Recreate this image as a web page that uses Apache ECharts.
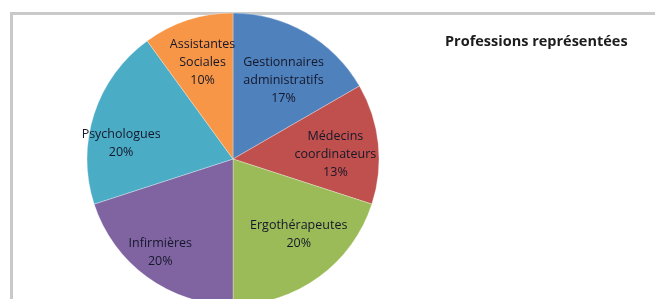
<!DOCTYPE html>
<html>
<head>
<meta charset="utf-8">
<script src="https://cdn.jsdelivr.net/npm/echarts@6/dist/echarts.min.js"></script>
<style>
html,body{margin:0;padding:0;background:#fff;}
#c{width:655px;height:299px;}
</style>
</head>
<body>
<div id="c"></div>
<script>
const categories = ["Gestionnaires\nadministratifs", "Médecins\ncoordinateurs", "Ergothérapeutes", "Infirmières", "Psychologues", "Assistantes\nSociales"];
const counts = [5, 4, 6, 6, 6, 3];
const colors = ["#4F81BD", "#C0504D", "#9BBB59", "#8064A2", "#4BACC6", "#F79646"];
const titleText = "Professions représentées";
// label nudges (style only), mimicking Excel "best fit" placement
const labelNudges = [[-2, 12], [-2, 6], [4, -10], [-11, 8], [-12, 17], [2, 3]];

const total = counts.reduce((a, b) => a + b, 0);
const data = categories.map((c, i) => ({ name: c, value: counts[i], itemStyle: { color: colors[i] } }));
const labelData = categories.map((c, i) => ({ name: c, value: counts[i] }));

const chart = echarts.init(document.getElementById('c'), null, { renderer: 'canvas' });
chart.setOption({
  animation: false,
  backgroundColor: '#ffffff',
  title: {
    text: titleText,
    left: 440, top: 29,
    textStyle: { fontFamily: 'Open Sans', fontSize: 14.5, fontWeight: 'bold', color: '#1c1c1c' }
  },
  graphic: [{
    type: 'rect', z: -10, silent: true,
    shape: { x: 11.5, y: 13.5, width: 700, height: 400 },
    style: { fill: 'none', stroke: '#c9c9c9', lineWidth: 3 }
  }],
  series: [{
    type: 'pie',
    center: [233, 159],
    radius: [0, 146],
    startAngle: 90,
    clockwise: true,
    data: data,
    label: { show: false },
    labelLine: { show: false },
    itemStyle: { borderWidth: 0.6, borderColor: 'rgba(255,255,255,0.5)' },
    silent: true
  }, {
    type: 'pie',
    center: [233, 159],
    radius: [58, 146],
    startAngle: 90,
    clockwise: true,
    data: labelData,
    itemStyle: { color: 'rgba(0,0,0,0)' },
    labelLine: { show: false },
    label: {
      show: true,
      position: 'inside',
      formatter: p => p.name + '\n' + Math.round(p.value / total * 100) + '%',
      fontFamily: 'Open Sans',
      fontSize: 12.5,
      lineHeight: 18,
      color: '#15172a',
      align: 'center'
    },
    labelLayout: p => ({ dx: labelNudges[p.dataIndex][0], dy: labelNudges[p.dataIndex][1] }),
    silent: true
  }]
});
</script>
</body>
</html>
